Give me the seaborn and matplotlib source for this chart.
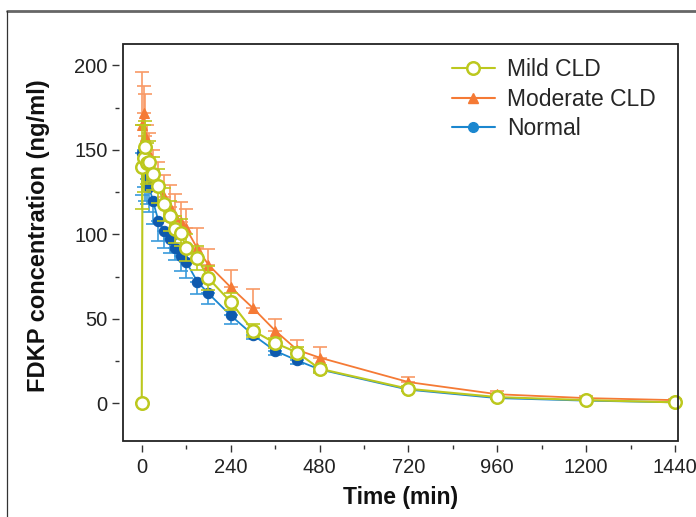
import matplotlib
matplotlib.use("Agg")
import matplotlib.pyplot as plt
import seaborn as sns
import pandas as pd
from matplotlib.patches import Rectangle
from matplotlib.lines import Line2D
from matplotlib import font_manager

# ---------------- data ----------------
times = [2, 5, 10, 15, 20, 30, 45, 60, 75, 90, 105, 120, 150, 180,
         240, 300, 360, 420, 480, 720, 960, 1200, 1440]

mild_t = [0] + times
mild_c = [0, 140, 145, 152, 142, 143, 136, 128.6, 117.7, 111, 103, 101, 92,
          86, 74, 60, 43, 35.6, 30, 20.4, 8.5, 3.6, 1.8, 0.5]
mild_se = [0, 25, 20, 15, 12, 12, 10, 10, 10, 9, 8, 8, 8,
           7, 7, 5, 4, 3, 3, 2.5, 1.5, 1, 0.5, 0.3]

mod_c = [165, 172, 158, 150, 146, 138, 130, 122, 116, 111, 107, 103.5,
         91.6, 82, 68.7, 56.4, 43, 31.5, 27, 12.5, 5.3, 3, 1.8]
mod_se = [31, 16, 25, 15, 14, 12, 13, 13, 13, 13, 12, 11.5,
          12, 9.4, 10, 11, 7, 6, 6, 3, 1.7, 1, 0.5]

norm_c = [148, 150, 140, 133, 128, 120, 108, 102, 97, 91.6, 87, 83.7,
          72, 65, 52, 40.5, 31, 25.3, 20, 8, 3, 1.5, 0.5]
norm_se = [25, 22, 20, 15, 15, 14, 12, 10, 8, 7, 8.5, 9.7,
           7.3, 6.3, 5, 2.5, 2.3, 2.3, 1.5, 1, 0.5, 0.3, 0.2]

x_ticks = [0, 240, 480, 720, 960, 1200, 1440]
y_ticks = [0, 50, 100, 150, 200]
series_names = ['Mild CLD', 'Moderate CLD', 'Normal']

# ---------------- style ----------------
sns.set_style("ticks")
plt.rcParams['font.family'] = ['Liberation Sans', 'DejaVu Sans']

installed = {f.name for f in font_manager.fontManager.ttflist}
HAS_NARROW = 'Liberation Sans Narrow' in installed
NARROW = ['Liberation Sans Narrow', 'Liberation Sans', 'DejaVu Sans']

C_MILD = '#BCC81E'
C_MOD = '#F57A35'
C_MOD_BAR = '#F89A66'
C_NORM = '#1B87CF'
C_NORM_MK = '#0E5AAE'
C_NORM_BAR = '#3A9BDB'

df_mild = pd.DataFrame({'t': mild_t, 'c': mild_c})
df_mod = pd.DataFrame({'t': times, 'c': mod_c})
df_norm = pd.DataFrame({'t': times, 'c': norm_c})

fig = plt.figure(figsize=(6.96, 5.17), dpi=100)
ax = fig.add_axes([123 / 696, 1 - 441 / 517, (678 - 123) / 696, (441 - 44) / 517])

# Normal
ax.errorbar(times, norm_c, yerr=[norm_se, [0] * len(times)], fmt='none',
            ecolor=C_NORM_BAR, elinewidth=1.2, capsize=5, capthick=1.2, zorder=2)
sns.lineplot(data=df_norm, x='t', y='c', ax=ax, color=C_NORM, lw=1.3,
             marker='o', markersize=7.5, markerfacecolor=C_NORM_MK,
             markeredgecolor=C_NORM_MK, zorder=3, legend=False)
# Moderate
ax.errorbar(times, mod_c, yerr=[[0] * len(times), mod_se], fmt='none',
            ecolor=C_MOD_BAR, elinewidth=1.2, capsize=5, capthick=1.2, zorder=4)
sns.lineplot(data=df_mod, x='t', y='c', ax=ax, color=C_MOD, lw=1.3,
             marker='^', markersize=7, markerfacecolor=C_MOD,
             markeredgecolor=C_MOD, zorder=5, legend=False)
# Mild
ax.errorbar(mild_t, mild_c, yerr=mild_se, fmt='none',
            ecolor=C_MILD, elinewidth=1.2, capsize=5, capthick=1.2, zorder=6)
sns.lineplot(data=df_mild, x='t', y='c', ax=ax, color=C_MILD, lw=1.5,
             marker='o', markersize=9, markerfacecolor='white',
             markeredgecolor=C_MILD, markeredgewidth=1.8, zorder=7,
             legend=False)
for l in ax.lines:
    l.set_clip_on(False)

ax.set_xlim(-50.6, 1448)
ax.set_ylim(-22.4, 212.7)
ax.set_xticks(x_ticks)
ax.set_xticks(list(range(120, 1440, 240)), minor=True)
ax.set_yticks(y_ticks)
ax.set_yticks([25, 75, 125, 175], minor=True)

for s in ax.spines.values():
    s.set_visible(False)
ax.spines['bottom'].set_position(('outward', 3))
ax.spines['left'].set_position(('outward', 3))
ax.add_patch(Rectangle((0, 0), 1, 1, transform=ax.transAxes, fill=False,
                       lw=1.3, edgecolor='#222222', clip_on=False, zorder=10))

ax.tick_params(axis='both', which='major', direction='out', length=5,
               width=1, color='#333333', labelcolor='#222222')
ax.tick_params(axis='both', which='minor', direction='out', length=3,
               width=1, color='#333333')
ax.tick_params(axis='y', labelsize=14.5, pad=3)
ax.tick_params(axis='x', labelsize=(16.5 if HAS_NARROW else 14.5), pad=4)
for lab in ax.get_xticklabels():
    lab.set_family(NARROW)

ax.set_xlabel('Time (min)', fontsize=(18 if HAS_NARROW else 16.5),
              fontweight='bold', family=NARROW, labelpad=7, color='#111111')
ax.set_ylabel('FDKP concentration (ng/ml)', fontsize=17, fontweight='bold',
              color='#111111')
ax.yaxis.set_label_coords(-0.1315, 0.516)

handles = [
    Line2D([], [], color=C_MILD, lw=1.5, marker='o', markersize=9,
           markerfacecolor='white', markeredgecolor=C_MILD, markeredgewidth=1.8),
    Line2D([], [], color=C_MOD, lw=1.5, marker='^', markersize=7,
           markerfacecolor=C_MOD, markeredgecolor=C_MOD),
    Line2D([], [], color=C_NORM, lw=1.5, marker='o', markersize=7,
           markerfacecolor=C_NORM, markeredgecolor=C_NORM),
]
ax.legend(handles, series_names, loc='upper right',
          bbox_to_anchor=(0.985, 1.0), frameon=False, fontsize=16.5,
          handlelength=1.85, handletextpad=0.55, labelspacing=0.3,
          borderaxespad=0.2)

# outer frame fragment
fig.add_artist(Line2D([7 / 696, 1], [1 - 11 / 517, 1 - 11 / 517],
                      transform=fig.transFigure, color='#666666', lw=2))
fig.add_artist(Line2D([7 / 696, 7 / 696], [1 - 11 / 517, 0],
                      transform=fig.transFigure, color='#333333', lw=0.9))

fig.savefig('out.png', dpi=100)
